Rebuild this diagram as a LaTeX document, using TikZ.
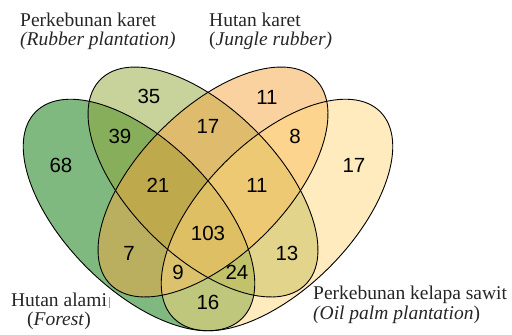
\documentclass[tikz,border=0pt]{standalone}
\usepackage{fontspec}
\setmainfont{Liberation Serif}
\newfontfamily\numfont{Liberation Sans}
\definecolor{cA}{RGB}{0,115,0}
\definecolor{cB}{RGB}{145,165,55}
\definecolor{cC}{RGB}{245,165,65}
\definecolor{cD}{RGB}{255,215,125}
\tikzset{
  setfill/.style={fill opacity=0.5, draw=none},
  setline/.style={draw=black, line width=0.9pt, fill=none},
  num/.style={font=\numfont\fontsize{20.5}{24}\selectfont, text=black, inner sep=0pt},
  lbl/.style={font=\fontsize{19.5}{23}\selectfont, text=black!85, inner sep=0pt},
}
\begin{document}
\begin{tikzpicture}[x=1pt,y=-1pt]
\useasboundingbox (0,0) rectangle (512,335);
\coordinate (cA) at (139,215);
\coordinate (cB) at (203,182);
\coordinate (cC) at (213,182);
\coordinate (cD) at (277,215);
% fills
\fill[setfill, fill=cA, rotate around={-45:(cA)}] (cA) ellipse [x radius=146pt, y radius=74pt];
\fill[setfill, fill=cB, rotate around={-45:(cB)}] (cB) ellipse [x radius=145pt, y radius=73.5pt];
\fill[setfill, fill=cC, rotate around={45:(cC)}] (cC) ellipse [x radius=145pt, y radius=73.5pt];
\fill[setfill, fill=cD, rotate around={45:(cD)}] (cD) ellipse [x radius=146pt, y radius=74pt];
% outlines
\draw[setline, rotate around={-45:(cA)}] (cA) ellipse [x radius=146pt, y radius=74pt];
\draw[setline, rotate around={-45:(cB)}] (cB) ellipse [x radius=145pt, y radius=73.5pt];
\draw[setline, rotate around={45:(cC)}] (cC) ellipse [x radius=145pt, y radius=73.5pt];
\draw[setline, rotate around={45:(cD)}] (cD) ellipse [x radius=146pt, y radius=74pt];
% numbers
\node[num] (n68) at (61,165) {68};
\node[num] (n35) at (149,96) {35};
\node[num] (n11a) at (267,97) {11};
\node[num] (n17a) at (354,165) {17};
\node[num] (n39) at (120,136) {39};
\node[num] (n17b) at (208,126) {17};
\node[num] (n8) at (295,136) {8};
\node[num] (n21) at (158,185) {21};
\node[num] (n11b) at (257,185) {11};
\node[num] (n103) at (208,233) {103};
\node[num] (n7) at (129,253) {7};
\node[num] (n13) at (287,253) {13};
\node[num] (n9) at (178,272) {9};
\node[num] (n24) at (237,272) {24};
\node[num] (n16) at (208,302) {16};
% labels
\node[lbl, anchor=base west] (lB1) at (20,26.5) {Perkebunan karet};
\node[lbl, anchor=base west] (lB2) at (20,45.5) {\textit{(Rubber plantation)}};
\node[lbl, anchor=base west] (lC1) at (209,26.5) {Hutan karet};
\node[lbl, anchor=base west] (lC2) at (209,45.5) {(\textit{Jungle rubber)}};
\node[lbl, anchor=base] (lA1) at (59,306) {Hutan alami};
\node[lbl, anchor=base] (lA2) at (59,325) {(\textit{Forest})};
\node[lbl, anchor=base west] (lD1) at (313,299) {Perkebunan kelapa sawit};
\node[lbl, anchor=base west] (lD2) at (313,319) {\textit{(Oil palm plantation})};
\draw[black!40, line width=0.6pt] (109,297) -- (109,308);
\end{tikzpicture}
\end{document}
